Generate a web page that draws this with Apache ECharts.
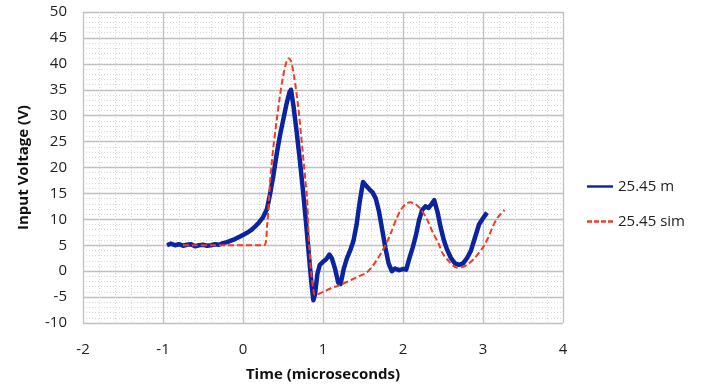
<!DOCTYPE html>
<html>
<head>
<meta charset="utf-8">
<script src="https://cdn.jsdelivr.net/npm/echarts@6/dist/echarts.min.js"></script>
<style>
  html, body { margin: 0; padding: 0; background: #fff; }
  #chart { width: 701px; height: 391px; }
</style>
</head>
<body>
<div id="chart"></div>
<script>
// Measured waveform (25.45 m)
const timeMeasured = [-0.95, -0.9, -0.85, -0.8, -0.75, -0.7, -0.65, -0.6, -0.55, -0.5, -0.45, -0.4, -0.35, -0.3, -0.25, -0.2, -0.15, -0.1, -0.05, 0.0, 0.05, 0.1, 0.15, 0.2, 0.25, 0.3, 0.34, 0.38, 0.42, 0.46, 0.5, 0.54, 0.58, 0.6, 0.63, 0.67, 0.71, 0.75, 0.79, 0.83, 0.86, 0.88, 0.9, 0.93, 0.96, 1.0, 1.04, 1.08, 1.11, 1.15, 1.19, 1.22, 1.26, 1.3, 1.34, 1.38, 1.42, 1.46, 1.5, 1.54, 1.58, 1.62, 1.66, 1.7, 1.74, 1.78, 1.82, 1.86, 1.9, 1.95, 2.0, 2.04, 2.08, 2.12, 2.16, 2.2, 2.24, 2.28, 2.32, 2.36, 2.39, 2.43, 2.47, 2.51, 2.55, 2.6, 2.65, 2.7, 2.75, 2.8, 2.85, 2.9, 2.95, 3.0, 3.05];
const voltageMeasured = [5.0, 5.3, 5.0, 5.2, 4.9, 5.1, 5.2, 4.8, 5.0, 5.1, 4.9, 5.0, 5.2, 5.1, 5.4, 5.6, 5.9, 6.2, 6.6, 7.0, 7.4, 7.9, 8.6, 9.4, 10.4, 12.0, 15.0, 18.5, 22.5, 26.0, 29.0, 32.0, 34.5, 35.0, 32.0, 27.0, 21.5, 15.5, 9.0, 2.0, -3.0, -5.6, -4.5, -0.5, 1.2, 1.8, 2.3, 3.2, 2.5, 0.5, -2.2, -2.5, 0.5, 2.5, 4.0, 5.8, 9.0, 13.5, 17.2, 16.5, 15.8, 15.2, 14.0, 11.5, 8.0, 4.5, 1.5, 0.0, 0.5, 0.2, 0.4, 0.3, 2.5, 4.5, 6.8, 9.8, 11.8, 12.5, 12.2, 13.0, 13.7, 11.5, 8.5, 6.0, 4.2, 2.5, 1.5, 1.2, 1.5, 2.5, 4.0, 6.5, 9.0, 10.2, 11.3];

// Simulated waveform (25.45 sim)
const timeSim = [-0.75, 0.26, 0.3, 0.34, 0.38, 0.42, 0.46, 0.5, 0.54, 0.57, 0.6, 0.64, 0.69, 0.74, 0.78, 0.8, 0.82, 0.85, 0.88, 0.9, 1.0, 1.1, 1.21, 1.35, 1.45, 1.55, 1.62, 1.67, 1.73, 1.8, 1.86, 1.92, 1.98, 2.04, 2.09, 2.15, 2.22, 2.3, 2.38, 2.44, 2.5, 2.58, 2.67, 2.74, 2.8, 2.9, 3.0, 3.06, 3.12, 3.18, 3.27];
const voltageSim = [5.0, 5.0, 8.5, 17.5, 24.0, 29.0, 33.6, 37.5, 40.2, 41.1, 40.5, 37.5, 31.7, 24.0, 17.5, 14.3, 7.3, 0.0, -3.5, -4.6, -4.0, -3.3, -2.7, -1.7, -1.0, -0.2, 1.0, 2.1, 3.6, 5.6, 7.8, 10.2, 12.0, 13.0, 13.3, 13.0, 12.0, 10.0, 7.2, 5.5, 3.3, 1.8, 0.7, 0.8, 1.2, 2.6, 4.6, 6.3, 8.5, 10.3, 11.8];

const seriesNames = ['25.45 m', '25.45 sim'];
const xTitle = 'Time (microseconds)';
const yTitle = 'Input Voltage (V)';

const pairs = (xs, ys) => xs.map((x, i) => [x, ys[i]]);

const FONT = 'Open Sans';
const BLUE = '#0b239e';
const RED = '#f03c24';

// legend keys: a solid stroke and a dashed stroke
const solidKey = 'path://M0,0h26v2.4h-26z';
const dashedKey = 'path://M0,0h5v2.4h-5z M7,0h5v2.4h-5z M14,0h5v2.4h-5z M21,0h5v2.4h-5z';

const chart = echarts.init(document.getElementById('chart'), null, { renderer: 'canvas' });

const majorGrid = { show: true, lineStyle: { color: '#c0c0c0', width: 1.3 } };
const minorGrid = { show: true, lineStyle: { color: '#d8d8d8', width: 1, type: [1, 2] } };

chart.setOption({
  animation: false,
  backgroundColor: '#ffffff',
  grid: { left: 83, right: 138, top: 12, bottom: 68, containLabel: false },
  legend: {
    orient: 'vertical',
    left: 582,
    top: 174,
    itemWidth: 26,
    itemHeight: 3,
    itemGap: 20,
    itemTextGap: 3,
    textStyle: { fontFamily: FONT, fontSize: 15, color: '#222' },
    data: [
      { name: seriesNames[0], icon: solidKey, itemStyle: { color: BLUE } },
      { name: seriesNames[1], icon: dashedKey, itemStyle: { color: RED } }
    ]
  },
  xAxis: {
    type: 'value',
    min: -2, max: 4, interval: 1,
    name: xTitle,
    nameLocation: 'middle',
    nameGap: 44,
    nameTextStyle: { fontFamily: FONT, fontSize: 15, fontWeight: 'bold', color: '#111' },
    axisLine: { show: false },
    axisTick: { show: false },
    axisLabel: { fontFamily: FONT, fontSize: 15, color: '#222', margin: 19 },
    splitLine: majorGrid,
    minorTick: { show: false, splitNumber: 5 },
    minorSplitLine: minorGrid
  },
  yAxis: {
    type: 'value',
    min: -10, max: 50, interval: 5,
    name: yTitle,
    nameLocation: 'middle',
    nameGap: 52,
    nameTextStyle: { fontFamily: FONT, fontSize: 15, fontWeight: 'bold', color: '#111' },
    axisLine: { show: false },
    axisTick: { show: false },
    axisLabel: { fontFamily: FONT, fontSize: 15, color: '#222', margin: 16 },
    splitLine: majorGrid,
    minorTick: { show: false, splitNumber: 5 },
    minorSplitLine: minorGrid
  },
  series: [
    {
      name: seriesNames[0],
      type: 'line',
      data: pairs(timeMeasured, voltageMeasured),
      showSymbol: false,
      symbol: 'none',
      lineStyle: { color: BLUE, width: 4.5, join: 'round' },
      itemStyle: { color: BLUE },
      z: 3
    },
    {
      name: seriesNames[1],
      type: 'line',
      data: pairs(timeSim, voltageSim),
      smooth: 0.3,
      showSymbol: false,
      symbol: 'none',
      lineStyle: { color: RED, width: 2, type: [6, 3] },
      itemStyle: { color: RED },
      z: 4
    }
  ]
});
</script>
</body>
</html>
